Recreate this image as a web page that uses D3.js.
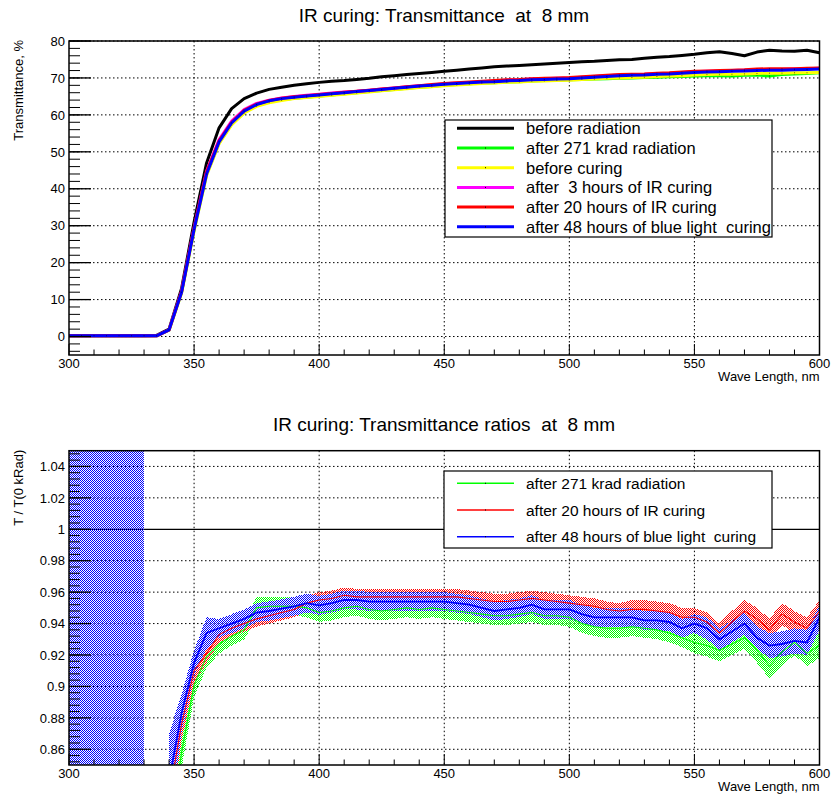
<!DOCTYPE html>
<html>
<head>
<meta charset="utf-8">
<script src="https://cdn.jsdelivr.net/npm/d3@7"></script>
<style>
  body { margin: 0; background: #fff; }
  svg { display: block; font-family: "Liberation Sans", Arial, sans-serif; }
  svg text { white-space: pre; }
</style>
</head>
<body>
<svg id="chart" width="832" height="797"></svg>
<script>
// wavelengths, nm
var wave = [300,305,310,315,320,325,330,335,340,345,350,355,360,365,370,375,380,385,390,395,
            400,405,410,415,420,425,430,435,440,445,450,455,460,465,470,475,480,485,490,495,
            500,505,510,515,520,525,530,535,540,545,550,555,560,565,570,575,580,585,590,595,600];

// transmittance, %
var beforeRad = [0.2,0.2,0.2,0.2,0.2,0.2,0.2,0.3,2.0,13.0,31.0,47.0,56.5,61.7,64.4,65.9,66.9,67.5,68.0,68.4,
                 68.8,69.1,69.3,69.6,69.9,70.3,70.6,70.9,71.2,71.5,71.8,72.1,72.4,72.7,73.0,73.2,73.4,73.6,73.8,74.0,
                 74.2,74.4,74.5,74.7,74.9,75.0,75.3,75.6,75.8,76.1,76.4,76.8,77.1,76.6,76.0,77.0,77.5,77.3,77.2,77.5,76.8];
var after271 = [0.2,0.2,0.2,0.2,0.2,0.2,0.2,0.2,1.7,11.9,28.8,43.8,52.4,57.5,60.7,62.5,63.5,64.1,64.5,64.8,
                65.1,65.4,65.7,66.0,66.3,66.6,66.9,67.2,67.5,67.7,68.0,68.2,68.4,68.6,68.7,68.9,69.0,69.2,69.3,69.4,
                69.5,69.6,69.7,69.8,69.9,70.0,70.1,70.2,70.3,70.4,70.5,70.6,70.6,70.5,70.7,70.8,70.5,70.9,71.1,71.2,71.4];
var beforeCuring = [0.2,0.2,0.2,0.2,0.2,0.2,0.2,0.2,1.7,11.8,28.6,43.6,52.2,57.3,60.5,62.3,63.3,63.9,64.4,64.7,
                    65.0,65.3,65.6,65.9,66.2,66.5,66.8,67.1,67.4,67.6,67.9,68.1,68.3,68.5,68.6,68.8,68.9,69.1,69.2,69.3,
                    69.4,69.6,69.7,69.9,70.0,70.1,70.2,70.4,70.5,70.6,70.8,70.9,71.0,71.0,71.1,71.2,71.3,71.3,71.4,71.4,71.5];
var after3h = [0.2,0.2,0.2,0.2,0.2,0.2,0.2,0.2,1.8,12.3,29.5,44.8,53.3,58.3,61.4,63.1,64.0,64.6,65.0,65.3,
               65.6,65.9,66.2,66.4,66.7,67.0,67.3,67.6,67.9,68.1,68.4,68.6,68.8,69.0,69.2,69.4,69.5,69.7,69.8,69.9,
               70.0,70.2,70.4,70.6,70.8,70.9,71.0,71.2,71.3,71.5,71.7,71.8,71.9,72.0,72.1,72.2,72.3,72.3,72.4,72.5,72.6];
var after20h = [0.2,0.2,0.2,0.2,0.2,0.2,0.2,0.2,1.8,12.2,29.3,44.5,53.0,58.0,61.2,62.9,63.9,64.5,64.9,65.2,
                65.5,65.8,66.1,66.4,66.7,67.0,67.3,67.6,67.9,68.2,68.5,68.7,68.9,69.1,69.3,69.5,69.6,69.8,69.9,70.0,
                70.1,70.3,70.5,70.7,70.9,71.0,71.1,71.3,71.4,71.6,71.8,71.9,72.0,72.1,72.2,72.4,72.5,72.5,72.5,72.6,72.7];
var after48h = [0.2,0.2,0.2,0.2,0.2,0.2,0.2,0.2,1.8,12.0,29.0,44.0,52.7,57.8,61.0,62.8,63.8,64.4,64.8,65.1,
                65.4,65.7,66.0,66.3,66.6,66.9,67.2,67.5,67.8,68.0,68.3,68.5,68.7,68.9,69.0,69.2,69.3,69.5,69.6,69.7,
                69.8,70.0,70.2,70.4,70.6,70.7,70.8,71.0,71.1,71.3,71.5,71.6,71.7,71.8,71.9,72.0,72.1,72.1,72.2,72.3,72.4];

// ratios T / T(0 kRad) and their errors (null = no value); below 335 nm the ratio is off scale
var ratio271 = [3.0,2.8,3.2,2.9,3.1,2.7,3.0,null,0.800,0.858,0.901,0.919,0.927,0.932,0.936,0.950,0.951,0.951,0.951,0.950,
                0.947,0.948,0.950,0.951,0.949,0.948,0.949,0.950,0.949,0.950,0.949,0.948,0.947,0.946,0.945,0.945,0.946,0.947,0.945,0.945,
                0.944,0.940,0.938,0.937,0.937,0.938,0.937,0.936,0.934,0.931,0.928,0.926,0.923,0.927,0.931,0.923,0.913,0.922,0.928,0.921,0.926];
var err271 = [2.5,2.5,2.5,2.5,2.5,2.5,2.5,null,0.020,0.010,0.008,0.007,0.006,0.006,0.006,0.007,0.006,0.006,0.006,0.006,
              0.006,0.006,0.006,0.006,0.006,0.006,0.006,0.006,0.006,0.006,0.006,0.006,0.006,0.006,0.006,0.006,0.006,0.006,0.006,0.006,
              0.006,0.006,0.006,0.006,0.006,0.006,0.006,0.006,0.006,0.006,0.007,0.007,0.007,0.007,0.007,0.008,0.008,0.009,0.008,0.008,0.008];
var ratio20h = [2.9,3.1,2.8,3.2,2.7,3.0,2.9,null,0.830,0.876,0.910,0.921,0.933,0.937,0.940,0.943,0.945,0.947,0.949,0.953,
                0.955,0.956,0.958,0.957,0.957,0.957,0.957,0.957,0.957,0.957,0.957,0.957,0.956,0.955,0.954,0.954,0.955,0.956,0.955,0.954,
                0.953,0.952,0.951,0.949,0.948,0.949,0.949,0.948,0.947,0.944,0.944,0.941,0.934,0.941,0.948,0.943,0.936,0.946,0.941,0.937,0.948];
var err20h = [2.5,2.5,2.5,2.5,2.5,2.5,2.5,null,0.020,0.010,0.008,0.006,0.005,0.005,0.005,0.005,0.005,0.005,0.005,0.005,
              0.005,0.005,0.005,0.005,0.005,0.005,0.005,0.005,0.005,0.005,0.005,0.005,0.005,0.005,0.005,0.005,0.005,0.005,0.005,0.005,
              0.005,0.005,0.005,0.005,0.005,0.006,0.006,0.006,0.006,0.006,0.006,0.006,0.006,0.007,0.007,0.007,0.007,0.007,0.007,0.007,0.007];
var ratio48h = [3.1,2.9,3.0,2.8,3.2,2.9,3.0,null,0.840,0.883,0.915,0.934,0.937,0.940,0.943,0.947,0.948,0.9495,0.951,0.953,
                0.9516,0.953,0.955,0.955,0.954,0.954,0.954,0.954,0.954,0.954,0.954,0.953,0.952,0.950,0.948,0.949,0.950,0.952,0.949,0.949,
                0.949,0.946,0.944,0.944,0.944,0.944,0.942,0.942,0.941,0.937,0.940,0.937,0.930,0.935,0.940,0.931,0.926,0.927,0.929,0.928,0.944];
var err48h = [2.5,2.5,2.5,2.5,2.5,2.5,2.5,null,0.030,0.012,0.008,0.010,0.006,0.006,0.006,0.006,0.006,0.006,0.006,0.006,
              0.006,0.006,0.006,0.006,0.006,0.006,0.006,0.006,0.006,0.006,0.006,0.006,0.006,0.006,0.006,0.006,0.006,0.006,0.006,0.006,
              0.006,0.006,0.006,0.006,0.006,0.006,0.006,0.006,0.006,0.006,0.006,0.007,0.007,0.007,0.007,0.007,0.008,0.008,0.008,0.008,0.008];

var xTickLabels = [300,350,400,450,500,550,600];
var yTopTicks = [0,10,20,30,40,50,60,70,80];
var yBotTicks = [0.86,0.88,0.9,0.92,0.94,0.96,0.98,1,1.02,1.04];

var topNames = ["before radiation","after 271 krad radiation","before curing",
                "after  3 hours of IR curing","after 20 hours of IR curing","after 48 hours of blue light  curing"];
var topColors = ["#000000","#00ff00","#ffff00","#ff00ff","#ff0000","#0000ff"];
var topSeries = [beforeRad, after271, beforeCuring, after3h, after20h, after48h];

var botNames = ["after 271 krad radiation","after 20 hours of IR curing","after 48 hours of blue light  curing"];
var botColors = ["#00ff00","#ff0000","#0000ff"];
var botRatios = [ratio271, ratio20h, ratio48h];
var botErrors = [err271, err20h, err48h];

var svg = d3.select("#chart");
var left = 69, right = 819.5;

// hatch patterns for error bands (1px checkerboard)
var defs = svg.append("defs");
botColors.forEach(function(c, i){
    var p = defs.append("pattern")
        .attr("id", "hatch" + i)
        .attr("width", 2).attr("height", 2)
        .attr("patternUnits", "userSpaceOnUse");
    p.append("rect").attr("x", 0).attr("y", 0).attr("width", 1).attr("height", 1).attr("fill", c);
    p.append("rect").attr("x", 1).attr("y", 1).attr("width", 1).attr("height", 1).attr("fill", c);
});

function drawFrame(g, x, y, top, bottom, yTicks, xTitle, yTitle, title, gridSkip){
    // grid
    g.append("g").selectAll("line")
        .data(xTickLabels.slice(1, -1))
        .enter().append("line")
        .attr("x1", d => x(d)).attr("x2", d => x(d))
        .attr("y1", top).attr("y2", bottom)
        .attr("stroke", "#000").attr("stroke-dasharray", "1.5,2.5");
    g.append("g").selectAll("line")
        .data(yTicks.filter(d => d !== gridSkip))
        .enter().append("line")
        .attr("x1", left).attr("x2", right)
        .attr("y1", d => y(d)).attr("y2", d => y(d))
        .attr("stroke", "#000").attr("stroke-dasharray", "1.5,2.5");

    // titles
    g.append("text")
        .attr("x", 444).attr("y", top - 19.5)
        .attr("text-anchor", "middle")
        .attr("font-size", 19)
        .text(title);
    g.append("text")
        .attr("transform", "translate(22.5," + (top - 1) + ") rotate(-90)")
        .attr("text-anchor", "end")
        .attr("font-size", 13)
        .text(yTitle);
    g.append("text")
        .attr("x", right).attr("y", bottom + 26)
        .attr("text-anchor", "end")
        .attr("font-size", 13)
        .text(xTitle);
}

function drawAxes(g, x, y, top, bottom, yTicks, yMinorStep, yFmt){
    var axes = g.append("g");
    // x ticks, inside the frame
    var xMinor = d3.range(300, 601, 10);
    axes.selectAll("line.xt").data(xMinor).enter().append("line")
        .attr("x1", d => x(d)).attr("x2", d => x(d))
        .attr("y1", bottom).attr("y2", d => bottom - (d % 50 === 0 ? 11 : 5.5))
        .attr("stroke", "#000");
    axes.selectAll("text.xl").data(xTickLabels).enter().append("text")
        .attr("x", d => x(d)).attr("y", bottom + 13)
        .attr("text-anchor", "middle")
        .attr("font-size", 13)
        .text(d => d);
    // y ticks
    var dom = y.domain();
    var yMinor = d3.range(Math.ceil(dom[0] / yMinorStep - 1e-6), Math.floor(dom[1] / yMinorStep + 1e-6) + 1)
                   .map(k => +(k * yMinorStep).toFixed(4));
    axes.selectAll("line.ym").data(yMinor).enter().append("line")
        .attr("x1", left).attr("x2", left + 11)
        .attr("y1", d => y(d)).attr("y2", d => y(d))
        .attr("stroke", "#000");
    axes.selectAll("line.yt").data(yTicks).enter().append("line")
        .attr("x1", left).attr("x2", left + 22)
        .attr("y1", d => y(d)).attr("y2", d => y(d))
        .attr("stroke", "#000").attr("stroke-width", 1.3);
    axes.selectAll("text.yl").data(yTicks).enter().append("text")
        .attr("x", left - 4).attr("y", d => y(d))
        .attr("dy", "0.36em")
        .attr("text-anchor", "end")
        .attr("font-size", 13)
        .text(yFmt);
    // frame
    axes.append("rect")
        .attr("x", left).attr("y", top)
        .attr("width", right - left).attr("height", bottom - top)
        .attr("fill", "none").attr("stroke", "#000").attr("stroke-width", 1.5);
}

function drawLegend(g, x0, y0, x1, y1, rows, names, colors, lw, fs, dotFrom){
    var lg = g.append("g");
    lg.append("rect")
        .attr("x", x0).attr("y", y0).attr("width", x1 - x0).attr("height", y1 - y0)
        .attr("fill", "#fff").attr("stroke", "#000").attr("stroke-width", 1.2);
    names.forEach(function(n, i){
        lg.append("line")
            .attr("x1", 457).attr("x2", 514)
            .attr("y1", rows[i]).attr("y2", rows[i])
            .attr("stroke", colors[i]).attr("stroke-width", lw);
        if (i >= dotFrom) {
            lg.append("rect").attr("x", 485).attr("y", rows[i] - 0.5)
                .attr("width", 1).attr("height", 1).attr("fill", "#000");
        }
        lg.append("text")
            .attr("x", 526).attr("y", rows[i])
            .attr("dy", "0.36em")
            .attr("font-size", fs)
            .text(n);
    });
}

// ---------- top: transmittance ----------
var xTop = d3.scaleLinear().domain([300, 600]).range([left, right]);
var yTop = d3.scaleLinear().domain([-5, 80]).range([355, 41]);
var gTop = svg.append("g");
drawFrame(gTop, xTop, yTop, 41, 355, yTopTicks,
          "Wave Length, nm", "Transmittance, %", "IR curing: Transmittance  at  8 mm", null);

defs.append("clipPath").attr("id", "clipTop")
    .append("rect").attr("x", left).attr("y", 41).attr("width", right - left).attr("height", 314);

var lineTop = d3.line()
    .x((d, i) => xTop(wave[i]))
    .y(d => yTop(d));
var plotTop = gTop.append("g").attr("clip-path", "url(#clipTop)");
topSeries.forEach(function(s, k){
    plotTop.append("path")
        .attr("d", lineTop(s))
        .attr("fill", "none")
        .attr("stroke", topColors[k])
        .attr("stroke-width", 3)
        .attr("stroke-linejoin", "round");
    if (k > 0) {
        plotTop.selectAll(null).data(s).enter().append("rect")
            .attr("x", (d, i) => xTop(wave[i]) - 0.5)
            .attr("y", d => yTop(d) - 0.5)
            .attr("width", 1).attr("height", 1)
            .attr("fill", "#000").attr("opacity", 0.6);
    }
});
drawAxes(gTop, xTop, yTop, 41, 355, yTopTicks, 2, d => d);
drawLegend(gTop, 445, 120, 772, 237,
           [128.3, 148, 167.7, 187.4, 207.1, 226.8], topNames, topColors, 3, 16.5, 1);

// ---------- bottom: ratios ----------
var yBot = d3.scaleLinear().domain([0.85, 1.05]).range([765, 450.7]);
var gBot = svg.append("g");
drawFrame(gBot, xTop, yBot, 450.7, 765, yBotTicks,
          "Wave Length, nm", "T / T(0 kRad)", "IR curing: Transmittance ratios  at  8 mm", 1);

defs.append("clipPath").attr("id", "clipBot")
    .append("rect").attr("x", left).attr("y", 450.7).attr("width", right - left).attr("height", 765 - 450.7);

// unity line
gBot.append("line")
    .attr("x1", left).attr("x2", right)
    .attr("y1", yBot(1)).attr("y2", yBot(1))
    .attr("stroke", "#000").attr("stroke-width", 1.2);

var plotBot = gBot.append("g").attr("clip-path", "url(#clipBot)");
botRatios.forEach(function(r, k){
    var e = botErrors[k];
    var area = d3.area()
        .defined((d, i) => r[i] !== null)
        .x((d, i) => xTop(wave[i]))
        .y0((d, i) => yBot(r[i] - e[i]))
        .y1((d, i) => yBot(r[i] + e[i]));
    plotBot.append("path")
        .attr("d", area(r))
        .attr("fill", "url(#hatch" + k + ")")
        .attr("shape-rendering", "crispEdges");
});
botRatios.forEach(function(r, k){
    var line = d3.line()
        .defined(d => d !== null)
        .x((d, i) => xTop(wave[i]))
        .y(d => yBot(d));
    plotBot.append("path")
        .attr("d", line(r))
        .attr("fill", "none")
        .attr("stroke", botColors[k])
        .attr("stroke-width", k === 2 ? 1.8 : 1.1);
});
drawAxes(gBot, xTop, yBot, 450.7, 765, yBotTicks, 0.004, d => String(+d.toFixed(2)));
drawLegend(gBot, 444, 471, 772, 548, [483.3, 510, 536.7], botNames, botColors, 1.5, 15.5, 0);
</script>
</body>
</html>
